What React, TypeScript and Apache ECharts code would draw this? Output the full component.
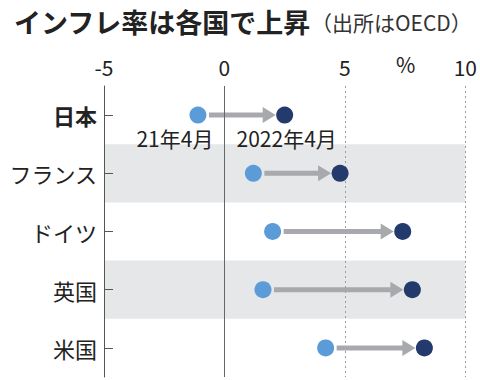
import React, { useEffect, useRef } from "react";
import * as echarts from "echarts";

const countries = ["日本", "フランス", "ドイツ", "英国", "米国"];
const apr2021 = [-1.1, 1.2, 2.0, 1.6, 4.2];
const apr2022 = [2.5, 4.8, 7.4, 7.8, 8.3];
const xTicks = { min: -5, max: 10, interval: 5 };

const FONT = '"Noto Sans CJK JP", "Noto Sans", sans-serif';
const LIGHT = "#5b9bd8";
const DARK = "#233a6c";
const ARROW = "#a7a9ac";

export default function App() {
  const ref = useRef<HTMLDivElement>(null);
  useEffect(() => {
    if (!ref.current) return;
    const chart = echarts.init(ref.current, null, { renderer: "svg" });
    const arrowData = countries.map((_, i) => [apr2021[i], i, apr2022[i]]);
    chart.setOption({
      animation: false,
      textStyle: { fontFamily: FONT },
      grid: { left: 104, right: 14, top: 86, bottom: 3 },
      title: {
        text: "インフレ率は各国で上昇{s|（出所はOECD）}",
        left: 9,
        top: 3,
        textStyle: {
          fontFamily: FONT,
          fontSize: 27,
          fontWeight: "bold",
          color: "#222",
          rich: { s: { fontFamily: FONT, fontSize: 21, fontWeight: "normal", color: "#333" } },
        },
      },
      graphic: [
        {
          type: "text",
          left: 396,
          top: 53,
          style: { text: "%", fontFamily: FONT, fontSize: 21, fill: "#222" },
        },
      ],
      xAxis: {
        type: "value",
        position: "top",
        min: xTicks.min,
        max: xTicks.max,
        interval: xTicks.interval,
        axisLine: { show: false },
        axisTick: { show: false },
        axisLabel: { fontSize: 21, color: "#222", margin: 9, fontFamily: FONT },
        splitLine: { show: true, lineStyle: { type: [2, 3], color: "#9a9a9a", width: 1 } },
      },
      yAxis: {
        type: "category",
        data: countries,
        inverse: true,
        axisLine: { show: true, onZero: false, lineStyle: { color: "#555", width: 1 } },
        axisTick: { show: true, inside: true, alignWithLabel: true, length: 9, lineStyle: { color: "#555" } },
        axisLabel: {
          fontSize: 22,
          color: "#222",
          margin: 7,
          fontFamily: FONT,
          formatter: (v: string) => (v === "日本" ? `{b|${v}}` : v),
          rich: { b: { fontSize: 22, fontWeight: "bold", color: "#222", fontFamily: FONT } },
        },
        splitLine: { show: false },
        splitArea: { show: true, areaStyle: { color: ["rgba(0,0,0,0)", "#e6e7e8"] } },
      },
      series: [
        {
          type: "custom",
          coordinateSystem: "cartesian2d",
          data: arrowData,
          renderItem: (_p: any, api: any) => {
            const idx = api.value(1);
            const p1 = api.coord([api.value(0), idx]);
            const p2 = api.coord([api.value(2), idx]);
            const y = p1[1];
            const x1 = p1[0] + 8 + 3;
            const tip = p2[0] - 8 - 1;
            const headLen = 13;
            const headHalf = 8;
            return {
              type: "group",
              children: [
                {
                  type: "line",
                  shape: { x1, y1: y, x2: tip - headLen + 1, y2: y },
                  style: { stroke: ARROW, lineWidth: 5 },
                },
                {
                  type: "polygon",
                  shape: {
                    points: [
                      [tip - headLen, y - headHalf],
                      [tip, y],
                      [tip - headLen, y + headHalf],
                    ],
                  },
                  style: { fill: ARROW },
                },
              ],
            };
          },
          z: 2,
        },
        {
          type: "scatter",
          symbolSize: 17,
          itemStyle: { color: LIGHT, opacity: 1 },
          markLine: {
            silent: true,
            symbol: "none",
            label: { show: false },
            lineStyle: { type: "solid", color: "#666", width: 1 },
            data: [{ xAxis: 0 }],
          },
          data: apr2021.map((v, i) => ({
            value: [v, i],
            label:
              i === 0
                ? {
                    show: true,
                    position: "bottom",
                    distance: 4,
                    offset: [-23, 0],
                    formatter: "21年4月",
                    fontSize: 21,
                    color: "#222",
                    fontFamily: FONT,
                  }
                : { show: false },
          })),
          z: 3,
        },
        {
          type: "scatter",
          symbolSize: 17,
          itemStyle: { color: DARK, opacity: 1 },
          data: apr2022.map((v, i) => ({
            value: [v, i],
            label:
              i === 0
                ? {
                    show: true,
                    position: "bottom",
                    distance: 4,
                    offset: [2, 0],
                    formatter: "2022年4月",
                    fontSize: 21,
                    color: "#222",
                    fontFamily: FONT,
                  }
                : { show: false },
          })),
          z: 3,
        },
      ],
    });
    return () => chart.dispose();
  }, []);
  return <div ref={ref} style={{ width: 480, height: 380, position: "absolute", left: 0, top: 0 }} />;
}
